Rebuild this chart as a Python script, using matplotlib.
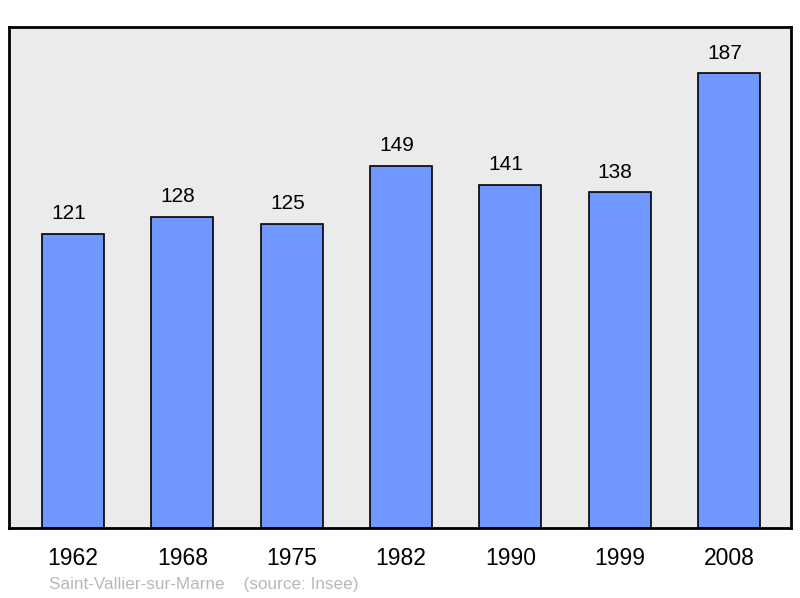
import matplotlib.pyplot as plt

plt.rcParams['font.family'] = ['Liberation Sans', 'DejaVu Sans']

years = ["1962", "1968", "1975", "1982", "1990", "1999", "2008"]
population = [121, 128, 125, 149, 141, 138, 187]

fig = plt.figure(figsize=(8, 5.98), dpi=100)
ax = fig.add_axes([9 / 800, 1 - 528 / 598, 782 / 800, 501 / 598])
ax.set_facecolor("#ebebeb")

pos = list(range(len(years)))
ax.bar(pos, population, width=0.567, color="#7096ff", edgecolor="black", linewidth=1.2, zorder=2)
for x, v in zip(pos, population):
    # labels sit a little left of the bar centre in the original
    ax.text(x - 0.04, v + 8.3, str(v), ha="center", va="center", fontsize=15)

ax.set_xlim(-0.585, 6.567)
ax.set_ylim(0, 206)
ax.set_yticks([])
ax.set_xticks(pos)
ax.set_xticklabels(years, fontsize=16.5)
ax.tick_params(axis="x", length=0, pad=14)
for s in ax.spines.values():
    s.set_linewidth(2)

fig.text(49 / 800, 1 - 584 / 598, "Saint-Vallier-sur-Marne    (source: Insee)",
         fontsize=12.3, color="#b8b8b8", va="center", ha="left")

fig.savefig("out.png", dpi=100)
